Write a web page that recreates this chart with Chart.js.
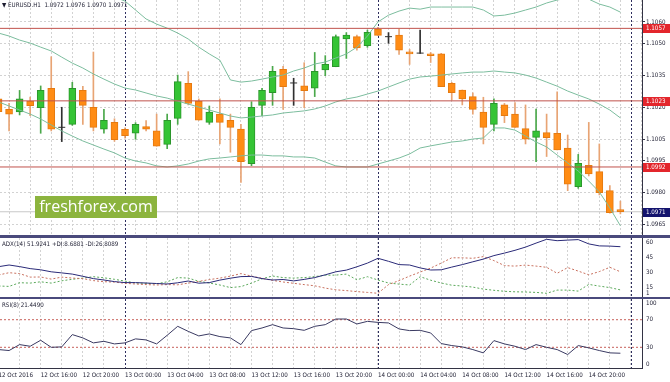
<!DOCTYPE html>
<html>
<head>
<meta charset="utf-8">
<script src="https://cdn.jsdelivr.net/npm/chart.js@4.4.1/dist/chart.umd.min.js"></script>
<style>
  html, body { margin:0; padding:0; background:#ffffff; }
  #wrap { position:relative; width:670px; height:382px; overflow:hidden; background:#ffffff; }
  #wrap canvas { position:absolute; left:0; }
  .sep { position:absolute; left:0; width:670px; background:#4a4a7c; }
</style>
</head>
<body>
<div id="wrap">
  <canvas id="cMain" width="670" height="235" style="top:0px"></canvas>
  <div class="sep" style="top:235px;height:3px"></div>
  <canvas id="cAdx" width="670" height="59" style="top:238px"></canvas>
  <div class="sep" style="top:297px;height:2px"></div>
  <canvas id="cRsi" width="670" height="83" style="top:299px"></canvas>
</div>
<script>
// ---------------- DATA ----------------
// hour offset of each H1 bar relative to 13 Oct 2016 00:00
const barHours = [-12,-11,-10,-9,-8,-7,-6,-5,-4,-3,-2,-1,0,1,2,3,4,5,6,7,8,9,10,11,12,13,14,15,16,17,18,19,20,21,22,23,24,25,26,27,28,29,30,31,32,33,34,35,36,37,38,39,40,41,42,43,44,45,46,47];

const openP  = [1.10239,1.10190,1.10178,1.10229,1.10198,1.10289,1.10106,1.10120,1.10279,1.10200,1.10097,1.10129,1.10097,1.10078,1.10109,1.10089,1.10026,1.10148,1.10312,1.10229,1.10129,1.10168,1.10139,1.10098,1.09936,1.10209,1.10268,1.10378,1.10314,1.10300,1.10289,1.10375,1.10390,1.10520,1.10531,1.10489,1.10567,1.10531,1.10539,1.10460,1.10454,1.10451,1.10450,1.10312,1.10281,1.10250,1.10178,1.10120,1.10211,1.10168,1.10100,1.10059,1.10081,1.10078,1.10009,1.09828,1.09928,1.09898,1.09809,1.09720];
const highP  = [1.10247,1.10218,1.10279,1.10248,1.10300,1.10437,1.10200,1.10317,1.10298,1.10459,1.10190,1.10146,1.10103,1.10128,1.10137,1.10168,1.10168,1.10351,1.10367,1.10239,1.10206,1.10239,1.10168,1.10120,1.10226,1.10289,1.10392,1.10392,1.10336,1.10409,1.10457,1.10442,1.10539,1.10550,1.10539,1.10562,1.10575,1.10550,1.10567,1.10471,1.10562,1.10457,1.10453,1.10317,1.10281,1.10268,1.10247,1.10239,1.10218,1.10222,1.10211,1.10192,1.10168,1.10272,1.10070,1.09979,1.10129,1.10028,1.09833,1.09760];
const lowP   = [1.10172,1.10089,1.10164,1.10161,1.10078,1.10089,1.10039,1.10115,1.10120,1.10089,1.10078,1.10040,1.10055,1.10050,1.10089,1.10017,1.10006,1.10120,1.10211,1.10139,1.10120,1.10028,1.09989,1.09848,1.09926,1.10161,1.10209,1.10190,1.10209,1.10198,1.10250,1.10348,1.10390,1.10429,1.10468,1.10481,1.10537,1.10500,1.10448,1.10401,1.10453,1.10410,1.10297,1.10234,1.10211,1.10168,1.10028,1.10089,1.10128,1.10106,1.10028,1.09945,1.09969,1.10000,1.09809,1.09820,1.09878,1.09789,1.09703,1.09700];
const closeP = [1.10179,1.10168,1.10239,1.10207,1.10279,1.10097,1.10106,1.10289,1.10209,1.10106,1.10139,1.10048,1.10067,1.10120,1.10097,1.10017,1.10139,1.10320,1.10218,1.10139,1.10178,1.10129,1.10106,1.09945,1.10200,1.10279,1.10368,1.10297,1.10314,1.10278,1.10368,1.10401,1.10531,1.10539,1.10478,1.10551,1.10537,1.10531,1.10468,1.10450,1.10454,1.10442,1.10297,1.10268,1.10239,1.10190,1.10106,1.10218,1.10161,1.10106,1.10050,1.10089,1.10058,1.10000,1.09839,1.09937,1.09887,1.09800,1.09706,1.09710];

const bbUpper  = [1.10871,1.10857,1.10843,1.10834,1.10820,1.10806,1.10792,1.10778,1.10764,1.10749,1.10731,1.10717,1.10698,1.10656,1.10614,1.10590,1.10571,1.10548,1.10520,1.10482,1.10450,1.10421,1.10328,1.10318,1.10323,1.10332,1.10342,1.10351,1.10370,1.10384,1.10403,1.10412,1.10431,1.10450,1.10482,1.10534,1.10600,1.10632,1.10651,1.10665,1.10660,1.10670,1.10670,1.10670,1.10670,1.10670,1.10656,1.10628,1.10632,1.10642,1.10656,1.10670,1.10689,1.10703,1.10712,1.10717,1.10707,1.10684,1.10670,1.10646];
const bbMiddle = [1.10548,1.10534,1.10515,1.10501,1.10482,1.10464,1.10435,1.10407,1.10384,1.10356,1.10332,1.10309,1.10290,1.10281,1.10267,1.10253,1.10243,1.10229,1.10215,1.10201,1.10187,1.10173,1.10159,1.10150,1.10154,1.10159,1.10164,1.10173,1.10178,1.10183,1.10192,1.10206,1.10225,1.10239,1.10248,1.10262,1.10276,1.10295,1.10314,1.10332,1.10342,1.10346,1.10351,1.10356,1.10361,1.10365,1.10365,1.10370,1.10365,1.10361,1.10351,1.10337,1.10318,1.10299,1.10276,1.10257,1.10239,1.10215,1.10187,1.10150];
const bbLower  = [1.10225,1.10206,1.10187,1.10168,1.10145,1.10117,1.10089,1.10065,1.10042,1.10023,1.10004,1.09986,1.09962,1.09948,1.09939,1.09925,1.09920,1.09925,1.09934,1.09948,1.09958,1.09962,1.09967,1.09972,1.09976,1.09976,1.09972,1.09972,1.09967,1.09967,1.09962,1.09943,1.09925,1.09920,1.09920,1.09920,1.09934,1.09948,1.09962,1.09981,1.10009,1.10019,1.10028,1.10037,1.10042,1.10051,1.10056,1.10103,1.10103,1.10093,1.10065,1.10037,1.10014,1.09976,1.09939,1.09901,1.09854,1.09803,1.09728,1.09644];

const adxMain = [31.9,33.6,32.0,30.0,28.8,26.8,25.7,24.5,22.3,20.0,18.6,17.0,16.0,16.0,15.6,15.1,14.6,15.8,17.6,15.4,16.0,18.5,20.4,22.0,22.2,20.0,18.6,19.1,17.7,19.2,21.0,23.8,26.8,28.5,31.8,35.5,40.3,37.3,34.0,33.6,30.7,28.6,28.8,31.5,34.0,36.8,39.5,43.0,45.5,48.3,51.5,55.5,59.3,57.9,58.5,59.0,54.7,52.7,52.5,51.9];
const plusDI  = [12.6,12.2,15.9,15.5,16.8,15.5,17.8,19.3,20.5,21.9,20.8,19.3,17.5,15.6,15.2,14.8,16.8,21.0,20.5,17.3,15.6,13.6,11.0,12.0,15.5,19.8,22.6,21.0,20.5,21.0,22.0,23.4,23.5,24.5,18.8,21.9,18.6,15.6,14.5,13.6,21.9,18.4,15.6,13.4,12.6,11.5,9.5,8.3,7.3,6.8,6.6,6.2,5.3,8.5,8.5,7.5,14.2,12.5,11.0,8.7];
const minusDI = [23.6,25.9,25.0,21.5,21.6,19.5,21.5,20.5,20.0,18.0,16.9,16.5,15.3,14.6,14.0,13.6,14.0,13.8,15.5,17.2,19.0,20.5,22.5,25.0,22.5,20.3,18.2,16.6,15.3,14.0,12.8,10.5,8.8,8.0,7.0,6.2,5.3,14.0,18.0,22.5,26.5,30.5,35.5,40.8,40.8,40.3,42.0,38.0,33.0,32.5,33.5,32.5,31.3,25.3,31.0,27.5,23.8,27.0,31.3,26.8];
const rsi8    = [26.7,25.3,33.9,31.5,40.2,30.0,30.6,48.4,43.6,36.4,38.7,34.9,36.4,42.2,40.7,34.9,47.4,60.4,53.1,46.5,49.4,45.5,43.6,33.9,54.2,58.0,62.8,58.0,57.0,54.6,60.4,62.8,71.0,71.0,63.8,67.6,66.1,65.3,56.6,54.2,54.6,50.8,35.4,32.5,30.6,26.7,21.9,39.7,34.9,31.5,26.7,33.9,30.0,26.7,19.5,32.5,29.2,25.3,21.9,21.4];

const priceTicks = [1.1060,1.1050,1.1035,1.1020,1.1005,1.0995,1.0980,1.0965];
const levelLines = [1.1057,1.1023,1.0992];
const lastPrice = 1.0971;
const timeTickHours  = [-12,-8,-4,0,4,8,12,16,20,24,28,32,36,40,44];
const timeTickLabels = ["12 Oct 2016","12 Oct 16:00","12 Oct 20:00","13 Oct 00:00","13 Oct 04:00","13 Oct 08:00","13 Oct 12:00","13 Oct 16:00","13 Oct 20:00","14 Oct 00:00","14 Oct 04:00","14 Oct 08:00","14 Oct 12:00","14 Oct 16:00","14 Oct 20:00"];
const daySeparatorHours = [0,24,48];
const adxScaleLabels = [60,45,30,15,1];
const rsiScaleLabels = [100,70,30,0];
const rsiLevels = [70,30];
const mainTitle = "\u25BC EURUSD.H1  1.0972 1.0976 1.0970 1.0971";
const adxTitle = "ADX(14) 51.9241 +DI:8.6881 -DI:26.8089";
const rsiTitle = "RSI(8) 21.4490";

// ---------------- STYLE ----------------
const FONT_FAMILY = "'Liberation Sans Narrow','DejaVu Sans Condensed','Liberation Sans',Arial,sans-serif";
const FS = 6.2;
const FONT = FS + "px " + FONT_FAMILY;
const TXT = '#1c1c30';
const GRID = '#d2d2d2';
const X_MIN = -11.86, X_MAX = 49.05;
Chart.defaults.font.family = FONT_FAMILY;
Chart.defaults.font.size = FS;
Chart.defaults.color = TXT;

const xy = arr => barHours.map((h, i) => ({x: h, y: arr[i]}));
const flat = v => [{x: X_MIN, y: v}, {x: X_MAX, y: v}];

function gridTicks(s) { const t = []; for (let h = -12; h <= 48; h += 2) t.push({value: h}); s.ticks = t; }

function hiddenX() {
  return {
    type: 'linear', min: X_MIN, max: X_MAX, offset: false,
    afterBuildTicks: gridTicks,
    ticks: {display: false},
    grid: {color: GRID, drawTicks: false},
    border: {display: false, dash: [2, 2]},
    afterFit: s => { s.height = 0; s.paddingLeft = 0; s.paddingRight = 0; }
  };
}

const daySep = {
  id: 'daySep',
  beforeDatasetsDraw(chart) {
    const {ctx, chartArea: a} = chart; const xs = chart.scales.x;
    ctx.save(); ctx.strokeStyle = '#2e2e5e'; ctx.lineWidth = 1; ctx.setLineDash([2, 2]);
    daySeparatorHours.forEach(h => {
      const px = Math.round(xs.getPixelForValue(h)) + 0.5;
      ctx.beginPath(); ctx.moveTo(px, a.top); ctx.lineTo(px, a.bottom); ctx.stroke();
    });
    ctx.restore();
  }
};

const panelTitle = {
  id: 'panelTitle',
  afterDraw(chart, args, o) {
    const ctx = chart.ctx; ctx.save();
    ctx.font = FONT; ctx.fillStyle = TXT; ctx.textAlign = 'left'; ctx.textBaseline = 'middle';
    ctx.fillText(o.text, o.x, o.y); ctx.restore();
  }
};

const sideLabels = {
  id: 'sideLabels',
  afterDraw(chart, args, o) {
    const {ctx, chartArea: a} = chart; const ys = chart.scales.y;
    ctx.save(); ctx.font = FONT; ctx.fillStyle = TXT; ctx.textAlign = 'left'; ctx.textBaseline = 'middle';
    o.items.forEach(v => {
      let y = ys.getPixelForValue(v) + o.dy;
      y = Math.max(a.top + 4, Math.min(a.bottom - 3.5, y));
      ctx.fillText(String(v), a.right + 4, y);
    });
    ctx.restore();
  }
};

const priceTags = {
  id: 'priceTags',
  afterDraw(chart) {
    const {ctx, chartArea: a} = chart; const ys = chart.scales.y;
    ctx.save(); ctx.font = FONT; ctx.textAlign = 'left'; ctx.textBaseline = 'middle';
    const tag = (v, bg) => {
      const y = ys.getPixelForValue(v);
      ctx.fillStyle = bg; ctx.fillRect(a.right + 1, Math.round(y) - 4, 27, 9);
      ctx.fillStyle = '#ffffff'; ctx.fillText(v.toFixed(4), a.right + 4, y + 0.5);
    };
    levelLines.forEach(v => tag(v, '#e3262c'));
    tag(lastPrice, '#14146e');
    ctx.restore();
  }
};

const watermark = {
  id: 'watermark',
  afterDraw(chart) {
    const ctx = chart.ctx; ctx.save();
    ctx.fillStyle = '#8cb43e'; ctx.fillRect(35, 196, 122, 22);
    ctx.font = "16px 'Open Sans', 'Noto Sans', sans-serif"; ctx.fillStyle = '#ffffff';
    ctx.textAlign = 'center'; ctx.textBaseline = 'middle';
    ctx.fillText('freshforex.com', 96, 207.5);
    ctx.restore();
  }
};

// ---------------- MAIN CHART ----------------
const UP_FILL = '#35c435', UP_LINE = '#2b962b', DN_FILL = '#ff8c14', DN_LINE = '#e57a10';
const UP_WICK = '#4aa84a', DN_WICK = '#e8a474', DOJI = '#303030';
const dir = barHours.map((h, i) => closeP[i] > openP[i] ? 1 : (closeP[i] < openP[i] ? -1 : 0));

new Chart(document.getElementById('cMain'), {
  type: 'bar',
  data: {
    datasets: [
      ...levelLines.map(v => ({type: 'line', data: flat(v), borderColor: '#c0524c', borderWidth: 1, pointRadius: 0, order: 0})),
      {type: 'line', data: xy(bbUpper), borderColor: '#7cbd9e', borderWidth: 1, pointRadius: 0, tension: 0, order: 1},
      {type: 'line', data: xy(bbMiddle), borderColor: '#7cbd9e', borderWidth: 1, pointRadius: 0, tension: 0, order: 1},
      {type: 'line', data: xy(bbLower), borderColor: '#7cbd9e', borderWidth: 1, pointRadius: 0, tension: 0, order: 1},
      {type: 'line', data: barHours.map((h, i) => dir[i] === 0 ? {x: h, y: openP[i]} : {x: h, y: null}),
        showLine: false, pointStyle: 'line', pointRadius: 3.5, pointBorderColor: DOJI, pointBorderWidth: 1, order: 2},
      {type: 'bar', data: barHours.map((h, i) => dir[i] === 0 ? {x: h, y: null} : {x: h, y: [Math.min(openP[i], closeP[i]), Math.max(openP[i], closeP[i])]}),
        backgroundColor: dir.map(d => d > 0 ? UP_FILL : DN_FILL), borderColor: dir.map(d => d > 0 ? UP_LINE : DN_LINE),
        borderWidth: 1, borderSkipped: false, barThickness: 7, grouped: false, order: 3},
      {type: 'bar', data: barHours.map((h, i) => ({x: h, y: [lowP[i], highP[i]]})),
        backgroundColor: dir.map(d => d > 0 ? UP_WICK : (d < 0 ? DN_WICK : DOJI)),
        borderWidth: 0, barThickness: 1, grouped: false, order: 4},
      {type: 'line', data: flat(lastPrice), borderColor: '#c8c8c8', borderWidth: 1, pointRadius: 0, order: 5}
    ]
  },
  options: {
    responsive: false, animation: false, devicePixelRatio: 1,
    layout: {padding: 0, autoPadding: false},
    plugins: {legend: {display: false}, tooltip: {enabled: false},
      panelTitle: {text: mainTitle, x: 2, y: 5}},
    scales: {
      x: hiddenX(),
      y: {
        position: 'right', min: 1.09601, max: 1.10703,
        afterBuildTicks: s => { s.ticks = priceTicks.map(v => ({value: v})); },
        ticks: {callback: v => Number(v).toFixed(4), padding: 1, color: TXT, autoSkip: false},
        grid: {color: GRID, drawTicks: true, tickLength: 3, tickColor: '#333344'},
        border: {display: true, color: '#333344', width: 1, dash: [2, 2]},
        afterFit: s => { s.width = 28; s.paddingTop = 0; s.paddingBottom = 0; }
      }
    }
  },
  plugins: [daySep, panelTitle, priceTags, watermark]
});

// ---------------- ADX ----------------
new Chart(document.getElementById('cAdx'), {
  type: 'line',
  data: {
    datasets: [
      {data: xy(adxMain), borderColor: '#2a2a78', borderWidth: 1, pointRadius: 0, tension: 0},
      {data: xy(minusDI), borderColor: '#c8705e', borderWidth: 1, borderDash: [2, 2], pointRadius: 0, tension: 0},
      {data: xy(plusDI), borderColor: '#5aa85a', borderWidth: 1, borderDash: [2, 2], pointRadius: 0, tension: 0}
    ]
  },
  options: {
    responsive: false, animation: false, devicePixelRatio: 1, layout: {padding: 0, autoPadding: false},
    plugins: {legend: {display: false}, tooltip: {enabled: false},
      panelTitle: {text: adxTitle, x: 2, y: 6},
      sideLabels: {items: adxScaleLabels, dy: 4}},
    scales: {
      x: hiddenX(),
      y: {position: 'right', min: 1.6, max: 60.6, ticks: {display: false}, grid: {display: false},
        border: {display: true, color: '#333344'},
        afterFit: s => { s.width = 28; s.paddingTop = 0; s.paddingBottom = 0; }}
    }
  },
  plugins: [daySep, panelTitle, sideLabels]
});

// ---------------- RSI ----------------
new Chart(document.getElementById('cRsi'), {
  type: 'line',
  data: {
    datasets: [
      {data: xy(rsi8), borderColor: '#3a3a62', borderWidth: 1, pointRadius: 0, tension: 0},
      ...rsiLevels.map(v => ({data: flat(v), borderColor: '#c8605a', borderWidth: 1, borderDash: [2, 2], pointRadius: 0}))
    ]
  },
  options: {
    responsive: false, animation: false, devicePixelRatio: 1, layout: {padding: 0, autoPadding: false},
    plugins: {legend: {display: false}, tooltip: {enabled: false},
      panelTitle: {text: rsiTitle, x: 2, y: 6},
      sideLabels: {items: rsiScaleLabels, dy: 0}},
    scales: {
      x: {
        type: 'linear', min: X_MIN, max: X_MAX, offset: false,
        afterBuildTicks: gridTicks,
        ticks: {
          autoSkip: false, maxRotation: 0, minRotation: 0, align: 'start', padding: 3.5, color: TXT,
          callback: v => { const k = timeTickHours.indexOf(v); return k >= 0 ? timeTickLabels[k] : ''; }
        },
        grid: {color: GRID, drawTicks: false},
        border: {display: true, color: '#333344', dash: [2, 2]},
        afterFit: s => { s.height = 14; s.paddingLeft = 0; s.paddingRight = 0; }
      },
      y: {position: 'right', min: 0, max: 100, ticks: {display: false}, grid: {display: false},
        border: {display: true, color: '#333344'},
        afterFit: s => { s.width = 28; s.paddingTop = 0; s.paddingBottom = 0; }}
    }
  },
  plugins: [daySep, panelTitle, sideLabels]
});
</script>
</body>
</html>
